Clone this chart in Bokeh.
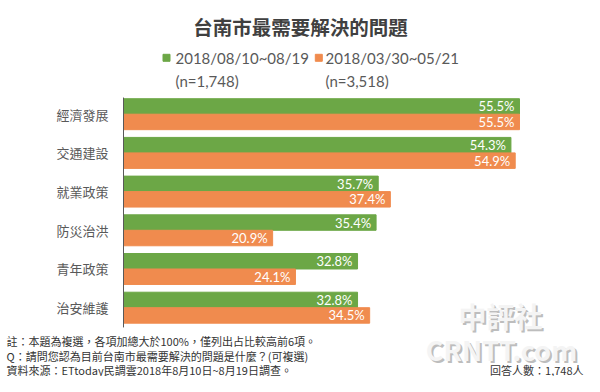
from bokeh.plotting import figure
from bokeh.models import Range1d
from bokeh.core.properties import value
from bokeh.embed import file_html
from bokeh.resources import INLINE

# ---- data ----
categories = ["經濟發展", "交通建設", "就業政策", "防災治洪", "青年政策", "治安維護"]
recent = [55.5, 54.3, 35.7, 35.4, 32.8, 32.8]
earlier = [55.5, 54.9, 37.4, 20.9, 24.1, 34.5]
series_names = ["2018/08/10~08/19", "2018/03/30~05/21"]
series_n = ["(n=1,748)", "(n=3,518)"]
title_text = "台南市最需要解決的問題"
notes = [
    "註：本題為複選，各項加總大於100%，僅列出占比較高前6項。",
    "Q：請問您認為目前台南市最需要解決的問題是什麼？(可複選)",
    "資料來源：ETtoday民調雲2018年8月10日~8月19日調查。",
]
respondents = "回答人數：1,748人"
watermark = ["中評社", "CRNTT.com"]

GREEN = "#6CA746"
ORANGE = "#F08B4E"
CJK = value("Noto Sans CJK TC")
LAT = value("Lato")

W, H = 584, 376
p = figure(width=W, height=H, output_backend="svg", toolbar_location=None,
           x_range=Range1d(-17.239, 64.61), y_range=Range1d(-1.778, 7.938),
           x_axis_location=None, y_axis_location=None, min_border=0)
p.grid.visible = False
p.outline_line_color = None
p.background_fill_color = "white"
p.border_fill_color = "white"
p.extra_x_ranges = {"px": Range1d(0, W)}
p.extra_y_ranges = {"py": Range1d(H, 0)}

n = len(categories)
ys = [n - 1 - i for i in range(n)]
y_g = [y + 0.2 for y in ys]
y_o = [y - 0.2 for y in ys]

# bars
p.hbar(y=y_g, right=recent, left=0, height=0.4, color=GREEN)
p.hbar(y=y_o, right=earlier, left=0, height=0.4, color=ORANGE)

# axis line
p.segment(x0=[0], y0=[min(ys) - 0.51], x1=[0], y1=[max(ys) + 0.43],
          line_color="#595959", line_width=1)

# value labels
p.text(x=[v - 0.7 for v in recent], y=y_g, text=[f"{v:.1f}%" for v in recent],
       text_align="right", text_baseline="middle", text_color="white",
       text_font=LAT, text_font_size="13px")
p.text(x=[v - 0.7 for v in earlier], y=y_o, text=[f"{v:.1f}%" for v in earlier],
       text_align="right", text_baseline="middle", text_color="white",
       text_font=LAT, text_font_size="13px")

# category labels
p.text(x=[-2.1] * n, y=ys, text=categories, text_align="right", text_baseline="middle",
       text_color="#595959", text_font=CJK, text_font_size="13px")

px = dict(x_range_name="px", y_range_name="py")

# title
p.text(x=[300], y=[25.5], text=[title_text], text_align="center", text_baseline="middle",
       text_color="#404040", text_font=CJK, text_font_size="19.5px",
       text_font_style="bold", **px)

# legend
p.rect(x=[166, 318.3], y=[57.3, 57.3], width=7, height=7, color=[GREEN, ORANGE], **px)
p.text(x=[175, 325], y=[57.5, 57.5], text=series_names, text_align="left",
       text_baseline="middle", text_color="#595959", text_font=LAT,
       text_font_size="15px", **px)
p.text(x=[175, 325], y=[80, 80], text=series_n, text_align="left",
       text_baseline="middle", text_color="#595959", text_font=LAT,
       text_font_size="15px", **px)

# watermark
p.text(x=[502, 503], y=[317.5, 351], text=watermark, text_align="center",
       text_baseline="middle", text_color="#bdbdbd", text_font=CJK,
       text_font_size=["28px", "27px"], text_font_style="bold", **px)
p.text(x=[500, 501], y=[315.5, 349], text=watermark, text_align="center",
       text_baseline="middle", text_color="#f4f4f4", text_font=CJK,
       text_font_size=["28px", "27px"], text_font_style="bold", **px)

# footer
p.text(x=[6, 6, 6], y=[340.5, 355, 369], text=notes, text_align="left",
       text_baseline="middle", text_color="#333333", text_font=CJK,
       text_font_size="11px", **px)
p.text(x=[583], y=[369], text=[respondents], text_align="right",
       text_baseline="middle", text_color="#333333", text_font=CJK,
       text_font_size="11px", **px)

open("out.html", "w").write(file_html(p, INLINE))
